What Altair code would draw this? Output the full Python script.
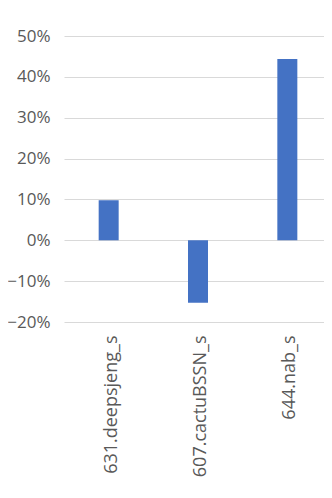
import altair as alt
import pandas as pd

categories = ["631.deepsjeng_s", "607.cactuBSSN_s", "644.nab_s"]
values = [0.098, -0.153, 0.444]

df = pd.DataFrame({"bench": categories, "value": values})

chart = alt.Chart(df).mark_bar(size=20, color="#4472C4").encode(
    x=alt.X("bench:N", sort=categories, title=None,
            scale=alt.Scale(range=[0, 268], paddingInner=0, paddingOuter=0),
            axis=alt.Axis(labelAngle=-90, labelAlign="right", labelBaseline="middle",
                          labelPadding=13, labelOffset=3, ticks=False, domain=False,
                          labelFont="Open Sans", labelFontSize=18, labelColor="#595959")),
    y=alt.Y("value:Q", title=None,
            scale=alt.Scale(domain=[-0.2, 0.5], nice=False, zero=False),
            axis=alt.Axis(values=[-0.2, -0.1, 0, 0.1, 0.2, 0.3, 0.4, 0.5], format=".0%",
                          ticks=False, domain=False, labelPadding=14,
                          labelFont="Open Sans", labelFontSize=17, labelColor="#595959",
                          gridColor="#d9d9d9", gridWidth=1)),
).properties(
    width=260, height=286,
    autosize=alt.AutoSizeParams(type="none"),
    padding={"left": 56, "top": 28, "right": 0, "bottom": 168},
).configure_view(stroke=None)

chart.save("out.html", embed_options={"renderer": "svg", "actions": False})
